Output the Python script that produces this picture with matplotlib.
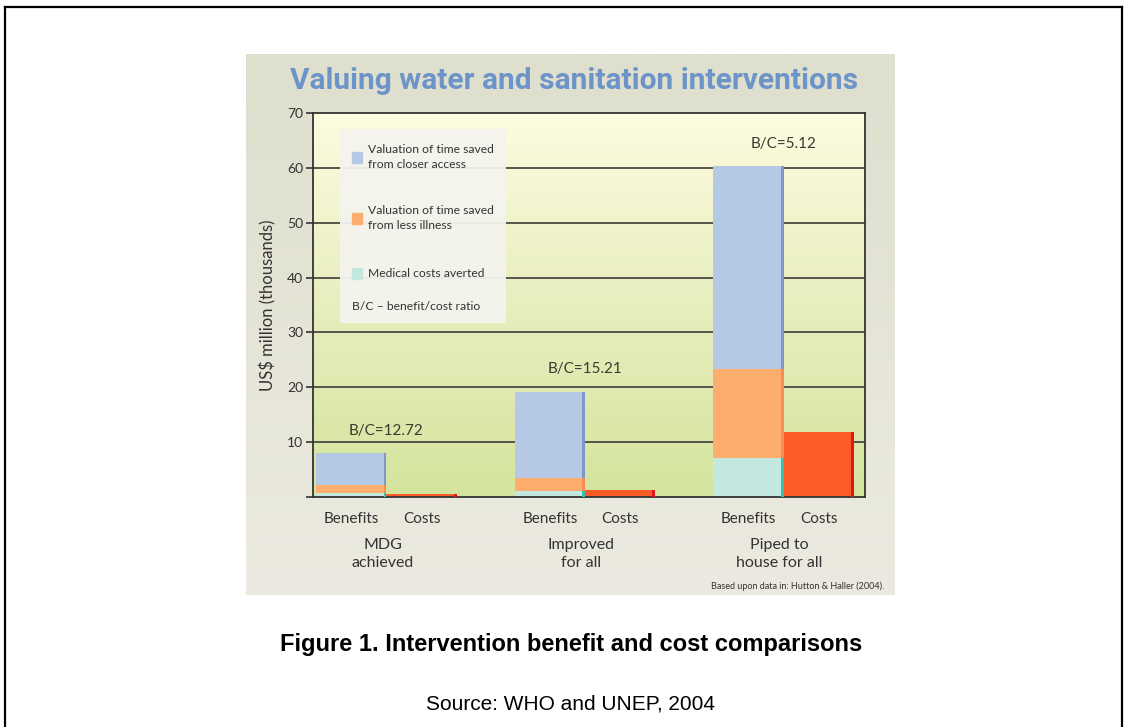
import numpy as np
import matplotlib
matplotlib.use("Agg")
import matplotlib.pyplot as plt
from matplotlib.lines import Line2D
from matplotlib.patches import Rectangle

# values, US$ million (thousands)
groups = ["MDG\nachieved", "Improved\nfor all", "Piped to\nhouse for all"]
medical = [0.8, 1.1, 7.2]
illness = [1.4, 2.3, 16.1]
access = [5.8, 15.8, 37.0]
costs = [0.63, 1.26, 11.8]
bc_labels = ["B/C=12.72", "B/C=15.21", "B/C=5.12"]
legend_labels = ["Valuation of time saved\nfrom closer access",
                 "Valuation of time saved\nfrom less illness",
                 "Medical costs averted"]
yticks = [0, 10, 20, 30, 40, 50, 60, 70]

plt.rcParams['font.family'] = ['Lato', 'DejaVu Sans']

fig = plt.figure(figsize=(11.26, 7.27), dpi=100)
fig.patch.set_facecolor("white")

# outer frame of the page (bottom edge is cut off)
fx0, fx1, fy1 = 4.5 / 1126, 1121.5 / 1126, 1 - 6.5 / 727
for xs, ys in [([fx0, fx0], [0, fy1]), ([fx0, fx1], [fy1, fy1]), ([fx1, fx1], [fy1, 0])]:
    fig.add_artist(Line2D(xs, ys, color="black", lw=1.6, transform=fig.transFigure))

# grey-beige panel behind the chart
panel = fig.add_axes([246 / 1126, 1 - 595 / 727, 649 / 1126, 541 / 727])
panel.set_axis_off()
pgrad = np.linspace(0, 1, 256).reshape(-1, 1)
pc_top = np.array([222, 223, 205]) / 255
pc_bot = np.array([236, 234, 224]) / 255
pimg = pc_top[None, None, :] * (1 - pgrad[:, :, None]) + pc_bot[None, None, :] * pgrad[:, :, None]
panel.imshow(pimg, aspect="auto", extent=[0, 1, 0, 1], transform=panel.transAxes)
panel.set_xlim(0, 1)
panel.set_ylim(0, 1)

panel.text(0.505, 0.95, "Valuing water and sanitation interventions", ha="center", va="center",
           fontsize=21.5, fontweight="bold", color="#6c94c9",
           family=["Roboto", "DejaVu Sans"])

ax = fig.add_axes([313 / 1126, 1 - 497 / 727, 552 / 1126, 384 / 727])
ax.set_zorder(2)

# yellow to green gradient plot background
grad = np.linspace(0, 1, 256).reshape(-1, 1)
c_top = np.array([253, 251, 224]) / 255
c_mid = np.array([232, 238, 190]) / 255
c_bot = np.array([212, 228, 158]) / 255
img = np.where(grad[:, :, None] < 0.5,
               c_top * (1 - 2 * grad[:, :, None]) + c_mid * 2 * grad[:, :, None],
               c_mid * (2 - 2 * grad[:, :, None]) + c_bot * (2 * grad[:, :, None] - 1))
ax.imshow(img, aspect="auto", extent=[0, 1, 0, 1], transform=ax.transAxes, zorder=0)

x = np.arange(len(groups))
w = 0.353
side = 0.014
xb = x - w / 2
xc = x + w / 2

for v in yticks[1:-1]:
    ax.axhline(v, color="#4a4a40", lw=1.3, zorder=1)

bottom = np.zeros(len(groups))
for vals, col, scol in [(medical, "#c2e8df", "#2fc4b2"),
                        (illness, "#fdae6f", "#f88c52"),
                        (access, "#b5c8e4", "#8197c9")]:
    ax.bar(xb, vals, w, bottom=bottom, color=col, zorder=2)
    ax.bar(xb + w / 2 - side / 2, vals, side, bottom=bottom, color=scol, zorder=3)
    bottom = bottom + np.array(vals)

ax.bar(xc, costs, w, color="#ff5b27", zorder=2)
ax.bar(xc + w / 2 - side / 2, costs, side, color="#e0141c", zorder=3)

for i, lab in enumerate(bc_labels):
    ax.annotate(lab, (x[i], bottom[i]), xytext=(0, 11), textcoords="offset points",
                ha="center", va="bottom", fontsize=11, color="#3a3a30", zorder=4)

ax.set_xlim(-0.37, 2.41)
ax.set_ylim(0, 70)
ax.set_yticks(yticks)
ax.set_yticklabels([""] + [str(v) for v in yticks[1:]], fontsize=10, color="#333333")
ax.tick_params(axis="y", length=5, width=1.2, color="#333333", pad=2)
ax.set_xticks(np.concatenate([xb, xc]))
ax.set_xticklabels(["Benefits"] * 3 + ["Costs"] * 3, fontsize=11, color="#333333")
ax.tick_params(axis="x", length=0, pad=11)
for s in ax.spines.values():
    s.set_color("#333333")
    s.set_linewidth(1.3)
ax.set_ylabel("US$ million (thousands)", fontsize=12, color="#333333", labelpad=8)

for i, g in enumerate(groups):
    ax.text(x[i] - 0.02, -0.108, g, transform=ax.get_xaxis_transform(), ha="center", va="top",
            fontsize=11.5, color="#333333", linespacing=1.3)

# legend box
lbox = fig.add_axes([340 / 1126, 1 - 323 / 727, 166 / 1126, 194 / 727])
lbox.set_zorder(3)
lbox.set_xlim(0, 166)
lbox.set_ylim(194, 0)
lbox.set_axis_off()
lbox.add_patch(Rectangle((0, 0), 166, 194, color="#f4f4ee", alpha=0.95))
lcols = ["#b5c8e4", "#fdae6f", "#c2e8df"]
lys = [28, 89, 144]
for lab, col, ly in zip(legend_labels, lcols, lys):
    lbox.add_patch(Rectangle((12, ly - 5.5), 10, 11, color=col))
    lbox.text(28, ly, lab, fontsize=8.7, va="center", ha="left", color="#333333", linespacing=1.4)
lbox.text(12, 177, "B/C \u2013 benefit/cost ratio", fontsize=8.7, va="center", ha="left", color="#333333")

fig.text(884 / 1126, 1 - 586 / 727, "Based upon data in: Hutton & Haller (2004).", ha="right",
         va="center", fontsize=6.5, color="#333333")

fig.text(0.507, 1 - 645 / 727, "Figure 1. Intervention benefit and cost comparisons", ha="center",
         va="center", fontsize=17, fontweight="bold", family="Liberation Sans")
fig.text(0.507, 1 - 704 / 727, "Source: WHO and UNEP, 2004", ha="center", va="center",
         fontsize=15, family="Liberation Sans")

fig.savefig("out.png", dpi=100)
